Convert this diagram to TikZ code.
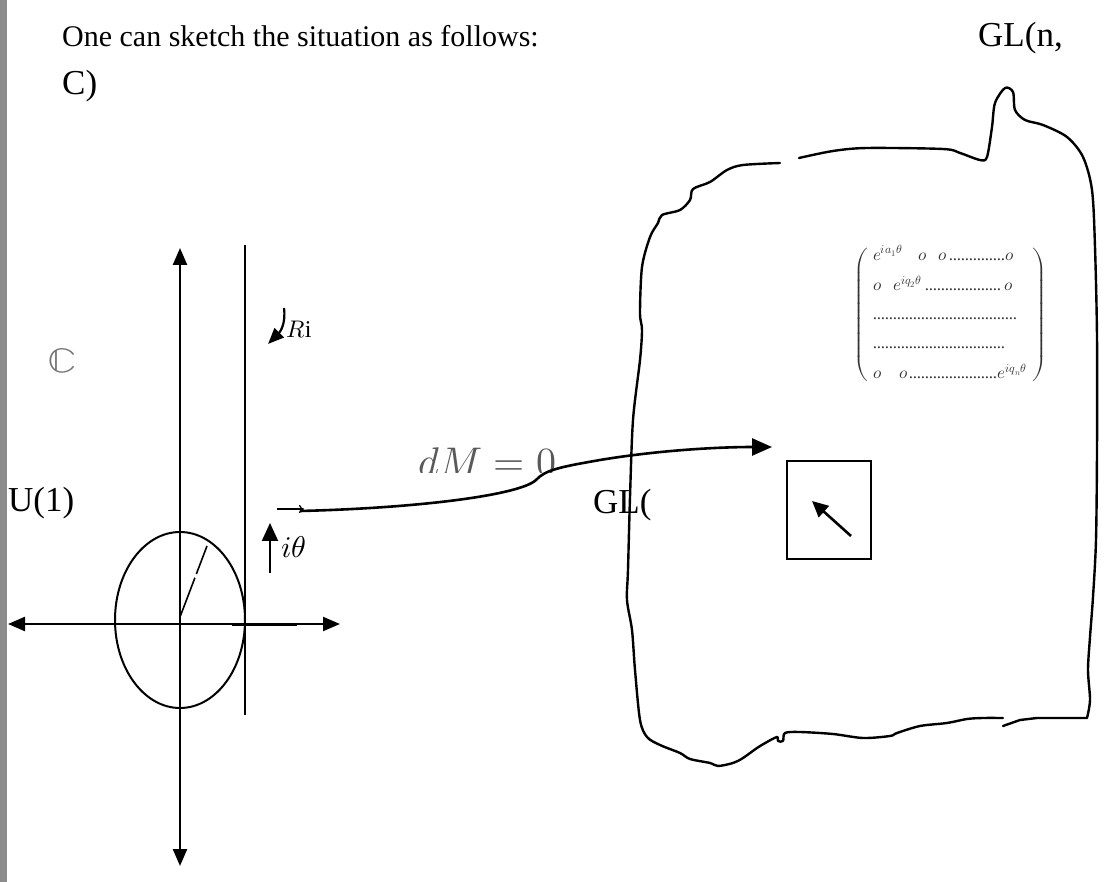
\documentclass[tikz,border=0pt]{standalone}
\usepackage{amsmath}
\usepackage{graphicx}
\usepackage{unicode-math}
\setmainfont{Liberation Serif}
\setmathfont{Latin Modern Math}
\usetikzlibrary{arrows.meta,positioning}

\newcommand\rowdots{\leaders\hbox to 4pt{\hss.\hss}\hfill}

\tikzset{
  sketch/.style={line width=2.4pt,line cap=round,line join=round},
  axis/.style={line width=2.4pt,{Triangle[length=17pt,width=14pt]}-{Triangle[length=17pt,width=14pt]}},
  plain/.style={font=\fontsize{30}{34}\selectfont,inner sep=0pt,anchor=base west},
  label/.style={font=\fontsize{35}{38}\selectfont,inner sep=0pt,anchor=base west},
}

\begin{document}
\begin{tikzpicture}[x=1pt,y=-1pt]
  \useasboundingbox (0,0) rectangle (1104,882);
  \fill[black!45] (0,0) rectangle (7,882);

  % text lines
  \node[plain] (title) at (62,47) {One can sketch the situation as follows:};
  \node[label] (glnlabel) at (978,47) {GL(n,};
  \node[label] (ctext) at (62,95) {C)};

  % complex plane
  \coordinate (ytop) at (180,248);
  \coordinate (ybot) at (180,866);
  \coordinate (xleft) at (8,624);
  \coordinate (xright) at (340,624);
  \coordinate (tantop) at (245,245);
  \coordinate (tanbot) at (245,715);
  \draw[axis] (ybot) -- (ytop);
  \draw[axis] (xleft) -- (xright);
  \draw[line width=3pt] (232,624) -- (297,624);
  \draw[line width=2pt] (tantop) -- (tanbot);
  \draw[line width=2pt] (180,620) ellipse [x radius=65,y radius=88];
  \draw[line width=1.6pt,dash pattern=on 42pt off 4pt on 40pt] (180,617) -- (207,546);

  \node[inner sep=0pt,anchor=base west,text=black!55,font=\fontsize{34}{36}\selectfont] (cfield) at (47,373) {\scalebox{1.3}[1]{$\mathbb{C}$}};
  \node[label] (uone) at (8,512) {U(1)};

  \node[inner sep=0pt,anchor=base west,font=\fontsize{24}{26}\selectfont] (rilabel) at (286,338) {$R\mathrm{i}$};
  \draw[line width=2.2pt,-{Triangle[length=16pt,width=13pt]}] (284,308) .. controls (286,324) and (280,332) .. (268,344);

  \node[inner sep=0pt,anchor=base west,font=\fontsize{30}{32}\selectfont] (ithlabel) at (281,558) {$i\theta$};
  \draw[line width=2pt,-{Triangle[length=18pt,width=16pt]}] (270,573) -- (270,523);

  % the map into GL
  \begin{scope}
    \clip (400,430) rectangle (580,473);
    \node[inner sep=0pt,anchor=base west,text=black!65,font=\fontsize{40}{44}\selectfont] (dmlabel) at (418,476) {$dM = 0$};
  \end{scope}
  \coordinate (tickstart) at (277,509);
  \coordinate (tickend) at (304,509);
  \draw[line width=1.2pt,-{To[length=5pt,width=8pt]}] (tickstart) -- (tickend);
  \coordinate (mapstart) at (300,511);
  \coordinate (mapend) at (772,447);
  \draw[line width=2.6pt,-{Triangle[length=20pt,width=17pt]}] (mapstart)
    .. controls (420,508) and (520,495) .. (536,480)
    .. controls (545,470) and (560,467) .. (600,460)
    .. controls (660,450) and (720,447) .. (mapend);
  \node[label] (glopen) at (593,514) {GL(};

  % the region GL(n,C)
  \draw[sketch] plot[smooth,tension=0.5] coordinates {
    (799,158) (833,151) (867,148) (943,149) (960,153) (980,160) (987,157)
    (992,127) (995,103) (1005,88) (1013,92) (1015,110) (1025,120) (1043,125)
    (1067,137) (1083,157) (1092,190) (1095,247) (1097,337) (1097,450)
    (1096,540) (1093,597) (1090,637) (1088,670) (1090,700) (1087,718)}
    -- (1037,718) -- (1020,720) -- (1003,726);
  \draw[sketch] plot[smooth,tension=0.5] coordinates {
    (1003,718) (983,718) (967,719) (947,723) (920,726) (897,733) (890,736)
    (863,738) (833,734) (800,732) (785,733) (783,741) (778,741) (777,737)
    (767,742) (757,748) (743,758) (733,763) (718,766) (710,763) (690,759)
    (680,753) (660,745) (647,737) (640,720) (635,670) (632,630) (627,600)
    (628,570) (630,497) (633,420) (640,360) (642,330) (640,313) (642,267)
    (650,237) (658,223) (662,215) (680,210) (690,200) (693,189) (710,182)
    (727,170) (743,165) (780,163)};

  \node[inner sep=0pt,text=black!80,font=\fontsize{17}{19}\selectfont] (matrixnode) at (950,315)
    {$\left(\begin{array}{@{\hskip5pt}l@{\hskip5pt}}
      \hbox to 141pt{$e^{ia_1\theta}$\hskip 16pt$o$\hskip 12pt$o$\rowdots$o$} \\[10pt]
      \hbox to 140pt{$o$\hskip 12pt$e^{iq_2\theta}$\rowdots$o$} \\[10pt]
      \hbox to 144pt{\rowdots} \\[10pt]
      \hbox to 134pt{\rowdots} \\[10pt]
      \hbox to 154pt{$o$\hskip 18pt$o$\rowdots$e^{iq_n\theta}$}
    \end{array}\right)$};

  \node[draw,line width=2pt,minimum width=84pt,minimum height=98pt,inner sep=0pt] (smallbox) at (829,510) {};
  \draw[line width=2.6pt,-{Triangle[length=16pt,width=15pt]}]
    ([shift={(22,26)}]smallbox.center) -- ([shift={(-17,-9)}]smallbox.center);
\end{tikzpicture}
\end{document}
